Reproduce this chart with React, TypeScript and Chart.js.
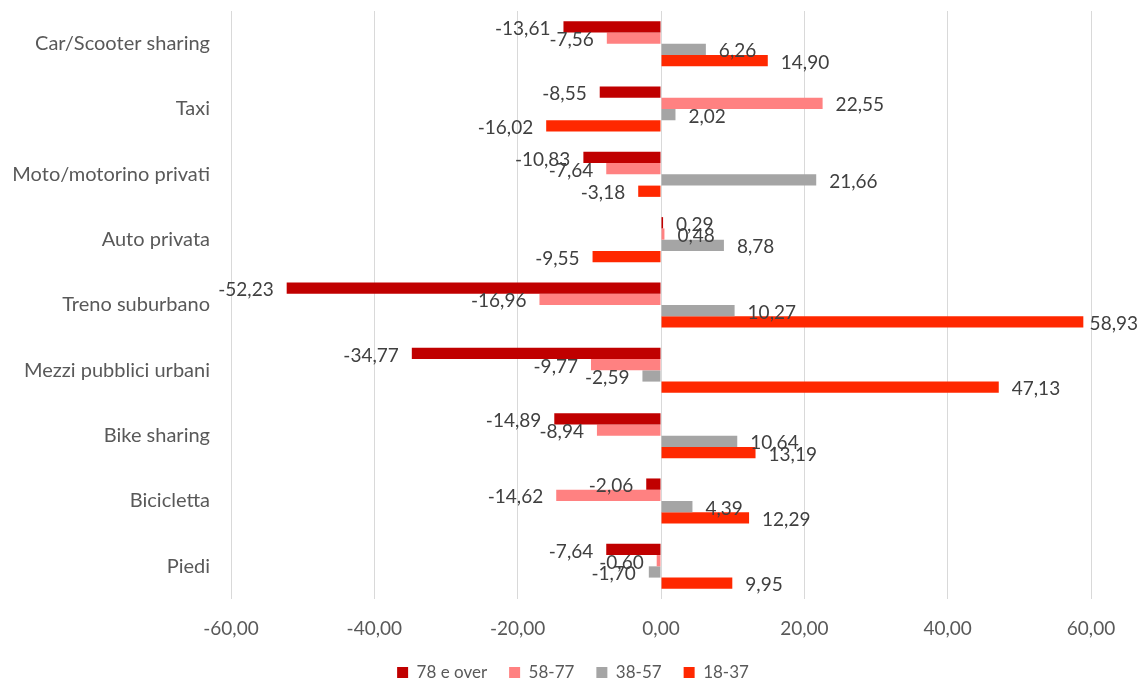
import React, { useEffect, useRef } from "react";
import { Chart, registerables } from "chart.js";

Chart.register(...registerables);

// Modes of transport (top to bottom)
const categories = [
  "Car/Scooter sharing",
  "Taxi",
  "Moto/motorino privati",
  "Auto privata",
  "Treno suburbano",
  "Mezzi pubblici urbani",
  "Bike sharing",
  "Bicicletta",
  "Piedi",
];

// Percentage variation per age group
const over78 = [-13.61, -8.55, -10.83, 0.29, -52.23, -34.77, -14.89, -2.06, -7.64];
const age58to77 = [-7.56, 22.55, -7.64, 0.48, -16.96, -9.77, -8.94, -14.62, -0.6];
const age38to57 = [6.26, 2.02, 21.66, 8.78, 10.27, -2.59, 10.64, 4.39, -1.7];
const age18to37 = [14.9, -16.02, -3.18, -9.55, 58.93, 47.13, 13.19, 12.29, 9.95];

const seriesNames = ["78 e over", "58-77", "38-57", "18-37"];
const seriesColors = ["#C00000", "#FF8181", "#A5A5A5", "#FF2800"];

const xTicks = [-60, -40, -20, 0, 20, 40, 60];

const FONT = "Lato, 'Open Sans', sans-serif";
const fmt = (v: number) => v.toFixed(2).replace(".", ",");

// Draws each bar's value just beyond the bar's end
const valueLabels = {
  id: "valueLabels",
  afterDatasetsDraw(chart: any) {
    const ctx = chart.ctx;
    ctx.save();
    ctx.font = `19px ${FONT}`;
    ctx.fillStyle = "#404040";
    ctx.textBaseline = "middle";
    chart.data.datasets.forEach((ds: any, i: number) => {
      const meta = chart.getDatasetMeta(i);
      meta.data.forEach((bar: any, j: number) => {
        const v = ds.data[j] as number;
        const { x, y } = bar.getProps(["x", "y"], true);
        const text = fmt(v);
        const w = ctx.measureText(text).width;
        const gap = 13;
        if (v >= 0) {
          let tx = x + gap;
          if (tx + w > chart.width - 2) tx = chart.width - 2 - w;
          ctx.textAlign = "left";
          ctx.fillText(text, tx, y + 2);
        } else {
          ctx.textAlign = "right";
          ctx.fillText(text, x - gap, y + 2);
        }
      });
    });
    ctx.restore();
  },
};

export default function App() {
  const canvasRef = useRef<HTMLCanvasElement>(null);

  useEffect(() => {
    document.body.style.margin = "0";
    const values = [over78, age58to77, age38to57, age18to37];
    const chart = new Chart(canvasRef.current!, {
      type: "bar",
      data: {
        labels: categories,
        datasets: values.map((d, i) => ({
          label: seriesNames[i],
          data: d,
          backgroundColor: seriesColors[i],
          borderWidth: 0,
          barPercentage: 1,
          categoryPercentage: 0.69,
        })),
      },
      options: {
        indexAxis: "y",
        animation: false,
        responsive: true,
        maintainAspectRatio: false,
        layout: { padding: { top: 11, right: 0, bottom: 0, left: 6 } },
        scales: {
          x: {
            min: -60,
            max: 60,
            afterBuildTicks(scale: any) {
              scale.ticks = xTicks.map((v) => ({ value: v }));
            },
            afterFit(scale: any) {
              scale.height = 43;
              scale.paddingRight = 49;
            },
            grid: { color: "#D9D9D9", lineWidth: 1, drawTicks: false },
            border: { display: false },
            ticks: {
              padding: 18,
              color: "#595959",
              font: { family: FONT, size: 19 },
              callback: function (value: any) {
                return fmt(Number(value));
              },
            },
          },
          y: {
            grid: { display: false, drawTicks: false },
            border: { display: false },
            afterFit(scale: any) {
              scale.width = 225;
              scale.paddingTop = 0;
              scale.paddingBottom = 0;
            },
            ticks: {
              padding: 21,
              color: "#595959",
              font: { family: FONT, size: 20 },
            },
          },
        },
        plugins: {
          legend: {
            position: "bottom",
            maxHeight: 44,
            labels: {
              boxWidth: 11,
              boxHeight: 11,
              padding: 22,
              color: "#595959",
              font: { family: FONT, size: 17 },
            },
          },
          tooltip: { enabled: false },
        },
      },
      plugins: [valueLabels],
    });
    return () => chart.destroy();
  }, []);

  return (
    <div style={{ width: 1140, height: 686, position: "relative", background: "#fff" }}>
      <canvas ref={canvasRef} />
    </div>
  );
}
